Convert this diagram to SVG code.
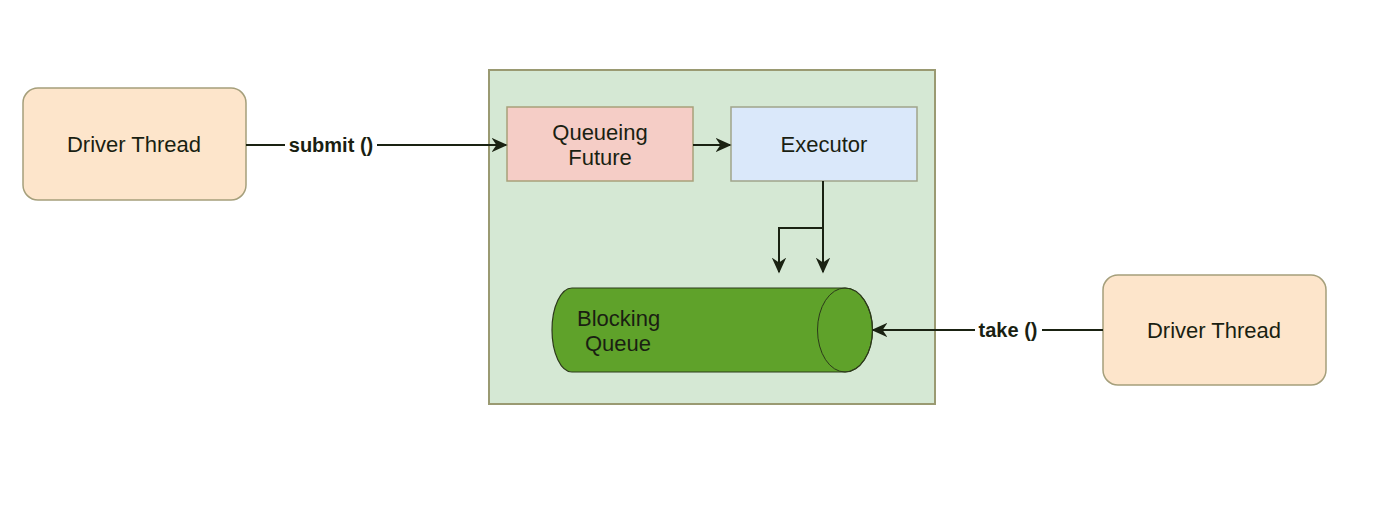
<svg xmlns="http://www.w3.org/2000/svg" width="1400" height="507" viewBox="0 0 1400 507">
<defs>
<style>
.t{font-family:"Liberation Sans",Arial,sans-serif;font-size:22px;fill:#1a1f12}
.lbl{font-family:"Liberation Sans",Arial,sans-serif;font-size:20px;font-weight:bold;fill:#1a1f12}
.e{stroke:#1a2212;stroke-width:2;fill:none}
</style>
<marker id="ah" viewBox="0 0 10 10" refX="9" refY="5" markerWidth="10" markerHeight="10" markerUnits="userSpaceOnUse" orient="auto">
<path d="M0,0 L10,5 L0,10 L3,5 Z" fill="#1a2212"/>
</marker>
<marker id="ah2" viewBox="0 0 10 10" refX="9" refY="5" markerWidth="16" markerHeight="16" markerUnits="userSpaceOnUse" orient="auto">
<path d="M0,0.5 L10,5 L0,9.5 L3,5 Z" fill="#1a2212"/>
</marker>
</defs>
<rect width="1400" height="507" fill="#ffffff"/>
<g id="container">
<rect x="489" y="70" width="446" height="334" fill="#d5e8d4" stroke="#9a9a72" stroke-width="2"/>
</g>
<g id="driver1">
<rect x="23" y="88" width="223" height="112" rx="15" fill="#fde5cb" stroke="#a59f7b" stroke-width="1.5"/>
<text class="t" x="134" y="152" text-anchor="middle">Driver Thread</text>
</g>
<g id="queueing">
<rect x="507" y="107" width="186" height="74" fill="#f5cdc6" stroke="#a8a07a" stroke-width="1.5"/>
<text class="t" x="600" y="140" text-anchor="middle">Queueing</text>
<text class="t" x="600" y="165" text-anchor="middle">Future</text>
</g>
<g id="executor">
<rect x="731" y="107" width="186" height="74" fill="#dae8fa" stroke="#a0a48a" stroke-width="1.5"/>
<text class="t" x="824" y="152" text-anchor="middle">Executor</text>
</g>
<g id="queue">
<path d="M572,288 L845,288 A27.5,42 0 0 1 845,372 L572,372 A20,42 0 0 1 572,288 Z" fill="#5fa22a" stroke="#2c3a1a" stroke-width="1.2"/>
<ellipse cx="845" cy="330" rx="27.5" ry="42" fill="none" stroke="#2c3a1a" stroke-width="1"/>
<text class="t" x="577" y="326">Blocking</text>
<text class="t" x="585" y="351">Queue</text>
</g>
<g id="driver2">
<rect x="1103" y="275" width="223" height="110" rx="15" fill="#fde5cb" stroke="#a59f7b" stroke-width="1.5"/>
<text class="t" x="1214" y="338" text-anchor="middle">Driver Thread</text>
</g>
<g id="connectors">
<path class="e" d="M246,145 L285,145 M377,145 L506,145" marker-end="url(#ah2)"/>
<text class="lbl" x="331" y="152" text-anchor="middle">submit ()</text>
<path class="e" d="M693,145 L730,145" stroke-width="3" marker-end="url(#ah2)"/>
<path class="e" d="M823,181 L823,272" marker-end="url(#ah2)"/>
<path class="e" d="M823,228 L779,228 L779,272" marker-end="url(#ah2)"/>
<path class="e" d="M1103,330 L1042,330 M975,330 L873,330" stroke-width="1.5" marker-end="url(#ah2)"/>
<text class="lbl" x="1008" y="337" text-anchor="middle">take ()</text>
</g>
</svg>
